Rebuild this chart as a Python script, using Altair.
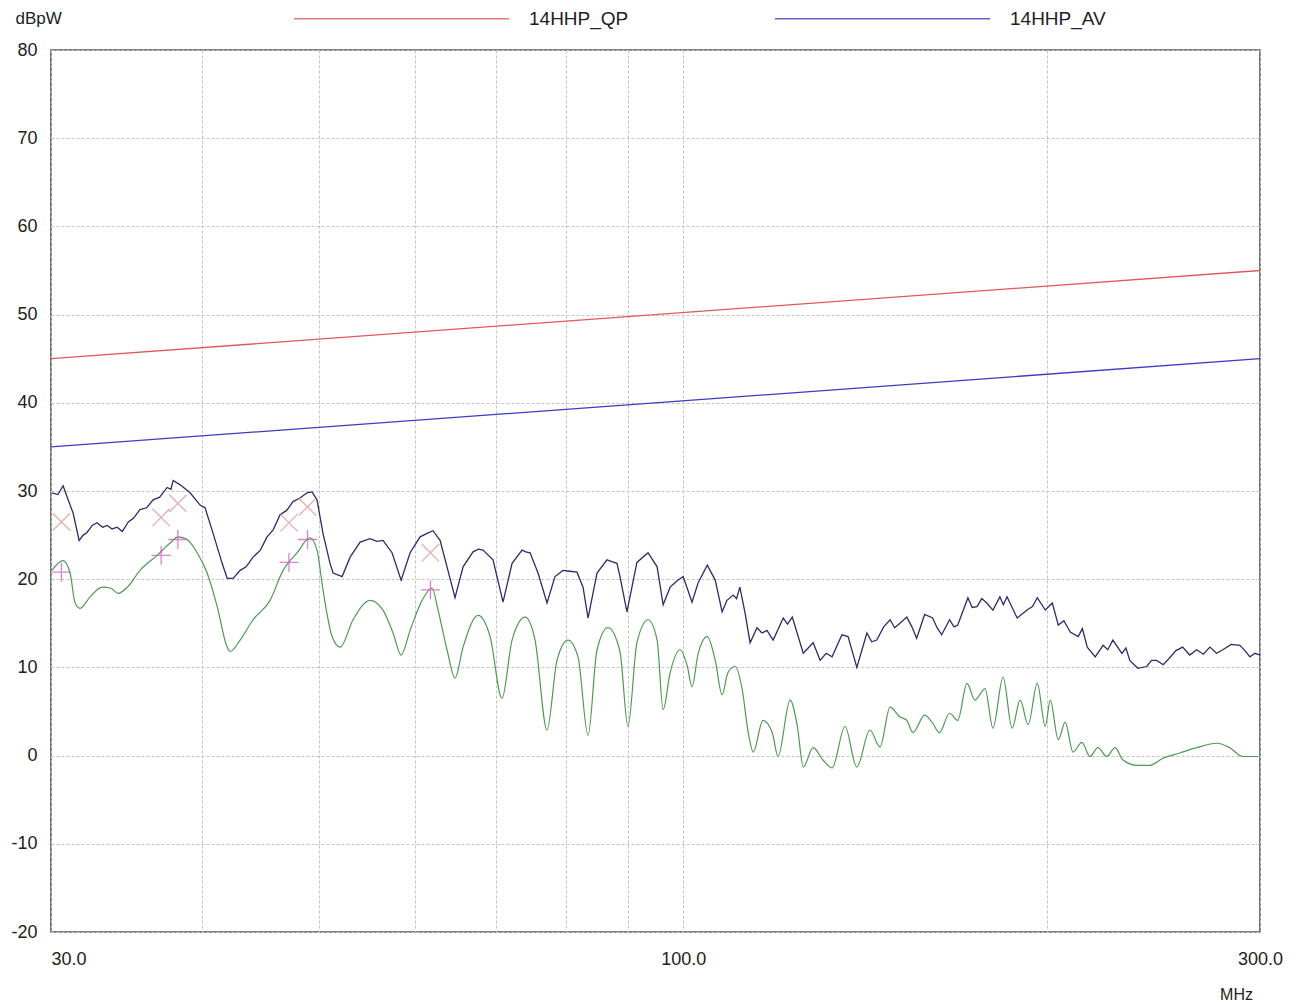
import altair as alt
import pandas as pd

# ---------------- data ----------------
# frequency (MHz), level (dBpW)
LIMIT_NAMES = ["14HHP_QP", "14HHP_AV"]
LIMIT_FREQ = [30.0, 300.0]
QP_LIMIT = [45.0, 55.0]
AV_LIMIT = [35.0, 45.0]

# peak / quasi-peak scan trace (dark line)
peak_trace = [
    (30.06, 29.8), (30.40, 29.6), (30.70, 30.6), (30.94, 29.3), (31.29, 27.5),
    (31.65, 24.4), (31.90, 25.0), (32.13, 25.3), (32.45, 26.1), (32.75, 26.4),
    (33.10, 25.9), (33.39, 26.1), (33.70, 25.7), (34.03, 25.9), (34.36, 25.4),
    (34.76, 26.5), (35.10, 26.9), (35.54, 27.9), (36.00, 28.1), (36.44, 29.0),
    (36.90, 29.3), (37.43, 30.4), (37.70, 30.2), (37.86, 31.2), (38.37, 30.7),
    (39.10, 29.8), (39.85, 28.4), (40.23, 28.1), (40.85, 25.2), (41.56, 21.8),
    (41.96, 20.1), (42.44, 20.1), (43.01, 21.0), (43.50, 21.4), (44.08, 22.5),
    (44.70, 23.3), (45.27, 24.8), (45.80, 25.6), (46.41, 27.3), (47.00, 27.8),
    (47.57, 28.8), (48.20, 29.2), (48.85, 29.8), (49.32, 29.9), (49.79, 29.0),
    (50.36, 25.2), (51.04, 21.8), (51.34, 20.7), (52.23, 20.3), (53.03, 22.5),
    (54.05, 24.2), (55.08, 24.6), (55.80, 24.3), (56.46, 24.4), (57.44, 23.0),
    (58.44, 19.9), (59.45, 23.0), (60.59, 24.8), (61.40, 25.2), (62.10, 25.5),
    (62.94, 24.4), (63.78, 21.4), (64.76, 17.9), (65.76, 21.4), (67.02, 23.1),
    (67.70, 23.4), (68.31, 23.3), (69.62, 22.2), (70.96, 17.4), (72.19, 21.8),
    (73.58, 23.3), (74.10, 23.1), (74.71, 23.0), (75.85, 20.7), (77.16, 17.3),
    (78.34, 20.3), (79.54, 21.0), (80.60, 20.9), (81.69, 20.8), (82.64, 19.1),
    (83.43, 15.6), (84.87, 20.7), (86.50, 22.2), (87.30, 22.0), (88.16, 21.8),
    (88.66, 20.3), (89.85, 16.3), (91.57, 21.9), (93.53, 23.0), (95.16, 21.4),
    (96.26, 17.1), (97.55, 19.1), (98.80, 19.8), (100.0, 20.3), (101.7, 17.4),
    (102.9, 19.6), (104.7, 21.6), (106.3, 19.9), (107.7, 16.3), (108.7, 17.6),
    (110.0, 18.2), (110.7, 17.8), (111.4, 19.1), (112.5, 16.2), (113.6, 12.8),
    (115.1, 14.5), (116.2, 13.9), (117.3, 14.2), (118.7, 13.1), (121.0, 15.6),
    (122.0, 14.9), (123.1, 15.7), (125.7, 11.6), (128.1, 12.8), (129.8, 10.8),
    (131.3, 11.6), (132.8, 11.2), (135.3, 13.7), (136.9, 13.5), (139.2, 10.0),
    (141.9, 13.9), (143.2, 12.9), (144.6, 13.1), (146.5, 14.6), (148.3, 15.4),
    (149.6, 14.5), (151.1, 15.0), (153.1, 15.7), (154.6, 14.6), (156.0, 13.3),
    (158.4, 16.0), (160.8, 15.6), (162.2, 14.5), (163.6, 13.7), (166.1, 15.4),
    (167.5, 14.6), (168.7, 14.8), (172.0, 17.9), (173.4, 16.8), (175.0, 16.9),
    (176.6, 17.8), (178.3, 17.3), (180.4, 16.5), (182.8, 18.0), (184.0, 17.1),
    (185.3, 18.0), (188.9, 15.6), (192.5, 16.5), (194.5, 16.9), (196.3, 17.9),
    (199.3, 16.5), (202.0, 17.3), (204.3, 14.8), (206.5, 15.3), (209.0, 14.0),
    (212.2, 13.5), (213.9, 14.4), (215.9, 12.3), (219.2, 11.2), (222.5, 12.5),
    (224.5, 12.0), (226.7, 13.1), (230.6, 11.6), (232.4, 12.2), (234.1, 10.8),
    (237.7, 9.9), (241.8, 10.1), (244.0, 10.8), (246.4, 10.8), (249.5, 10.3),
    (252.6, 11.1), (255.6, 11.9), (258.9, 12.3), (262.4, 11.4), (265.9, 12.0),
    (269.3, 11.5), (272.7, 12.3), (276.2, 11.6), (279.5, 12.0), (284.0, 12.6),
    (288.7, 12.5), (291.5, 11.9), (294.3, 11.2), (297.2, 11.6), (300.0, 11.4),
]

# average scan trace (green line)
avg_trace = [
    (30.06, 21.0), (30.70, 22.1), (31.11, 20.7), (31.41, 17.3), (31.71, 16.7),
    (32.32, 18.0), (33.07, 19.1), (33.58, 19.0), (34.10, 18.4), (34.70, 19.1),
    (35.54, 21.0), (36.72, 22.7), (37.64, 24.1), (38.22, 24.8), (38.88, 24.5),
    (39.63, 23.0), (40.39, 20.7), (41.17, 16.9), (41.96, 12.3), (42.20, 11.8),
    (43.01, 13.1), (44.08, 15.4), (45.53, 17.6), (46.68, 21.0), (47.94, 23.0),
    (49.13, 24.7), (49.79, 23.3), (50.36, 18.8), (51.24, 13.5), (52.03, 12.3),
    (53.33, 15.4), (55.08, 17.6), (56.46, 16.5), (57.55, 13.9), (58.44, 11.4),
    (59.45, 14.2), (60.82, 17.6), (61.99, 19.0), (62.70, 16.5), (63.78, 12.0),
    (64.76, 8.8), (65.76, 12.3), (67.67, 15.9), (69.23, 13.5), (70.82, 6.5),
    (72.19, 13.1), (74.01, 15.7), (75.42, 13.1), (77.16, 2.9), (78.64, 10.8),
    (80.30, 13.1), (81.85, 11.2), (83.43, 2.3), (84.87, 12.0), (86.67, 14.5),
    (88.66, 11.8), (90.02, 3.3), (91.57, 12.8), (93.53, 15.4), (95.16, 13.1),
    (96.26, 5.2), (97.55, 9.4), (99.42, 12.0), (100.8, 10.1), (101.7, 7.8),
    (102.9, 11.6), (104.7, 13.5), (106.3, 10.8), (107.7, 6.9), (108.9, 9.4),
    (110.4, 10.1), (111.9, 7.5), (113.2, 2.6), (114.3, 0.4), (116.4, 4.0),
    (118.5, 2.6), (119.8, -0.1), (122.6, 6.3), (124.3, 3.3), (125.7, -1.3),
    (128.1, 0.9), (130.5, -0.5), (132.8, -1.4), (136.1, 3.3), (139.2, -1.3),
    (142.7, 2.9), (145.5, 1.0), (148.3, 5.5), (151.1, 4.4), (153.1, 4.0),
    (154.9, 2.6), (158.4, 4.6), (160.8, 3.7), (162.9, 2.6), (166.1, 4.8),
    (168.7, 4.0), (171.7, 8.2), (174.3, 6.3), (177.7, 7.6), (180.4, 3.1),
    (183.9, 8.9), (187.1, 3.1), (190.0, 6.3), (192.9, 3.5), (196.3, 8.2),
    (199.3, 3.3), (201.2, 6.3), (204.3, 1.8), (207.0, 3.8), (210.1, 0.4),
    (213.7, 1.5), (217.0, -0.1), (220.3, 0.9), (224.1, -0.1), (227.6, 0.9),
    (231.1, -0.5), (237.3, -1.1), (243.2, -1.1), (249.3, -0.3), (257.5, 0.3),
    (265.9, 0.9), (276.3, 1.4), (283.2, 0.9), (290.3, -0.1), (298.9, -0.1),
]

# final measurement markers
MARK_FREQ = [30.6, 37.0, 38.2, 47.2, 48.9, 61.8]
MARK_QP = [26.5, 27.0, 28.6, 26.4, 28.2, 23.0]
MARK_AV = [20.8, 22.7, 24.5, 21.9, 24.5, 18.8]

Y_TICKS = list(range(-20, 81, 10))
X_GRID = [30, 40, 50, 60, 70, 80, 90, 100, 200, 300]
X_LABELED = [30, 100, 300]

# ---------------- build tables ----------------
limits = pd.DataFrame(
    [{"f": f, "v": v, "name": LIMIT_NAMES[0]} for f, v in zip(LIMIT_FREQ, QP_LIMIT)]
    + [{"f": f, "v": v, "name": LIMIT_NAMES[1]} for f, v in zip(LIMIT_FREQ, AV_LIMIT)]
)
peak_df = pd.DataFrame(peak_trace, columns=["f", "v"])
avg_df = pd.DataFrame(avg_trace, columns=["f", "v"])
marks_df = pd.DataFrame({"f": MARK_FREQ, "qp": MARK_QP, "av": MARK_AV})

FONT = "Liberation Sans"
TXT = "#222222"

x_scale = alt.Scale(type="log", domain=[30, 300], nice=False)
y_scale = alt.Scale(domain=[-20, 80], nice=False, zero=False)

label_test = " || ".join(f"datum.value == {v}" for v in X_LABELED)
x_axis = alt.Axis(
    values=X_GRID,
    labelExpr=f"({label_test}) ? format(datum.value, '.1f') : ''",
    labelAlign={"condition": {"test": "datum.value <= 30", "value": "left"}, "value": "center"},
    labelFont=FONT, labelFontSize=18, labelColor=TXT, labelPadding=18,
    labelOverlap=False, labelFlush=False,
    ticks=False, domain=False,
    grid=True, gridColor="#c4c4c4", gridDash=[3, 2], gridWidth=1,
    title="MHz", titleFont=FONT, titleFontSize=16, titleFontWeight="normal",
    titleColor=TXT, titleX=1185, titleY=62, titleAlign="center", titleBaseline="middle",
)
y_axis = alt.Axis(
    values=Y_TICKS,
    labelExpr="'' + datum.value",
    labelFont=FONT, labelFontSize=18, labelColor=TXT, labelPadding=14,
    ticks=False, domain=False,
    grid=True, gridColor="#c4c4c4", gridDash=[3, 2], gridWidth=1,
    title="dBpW", titleFont=FONT, titleFontSize=17, titleFontWeight="normal",
    titleColor=TXT, titleAngle=0, titleX=-36, titleY=-32,
    titleAlign="left", titleBaseline="middle",
)

X = alt.X("f:Q", scale=x_scale, axis=x_axis)
Y = alt.Y("v:Q", scale=y_scale, axis=y_axis)

limit_layer = alt.Chart(limits).mark_line(strokeWidth=1.3).encode(
    x=X, y=Y,
    color=alt.Color(
        "name:N",
        scale=alt.Scale(domain=LIMIT_NAMES, range=["#e0585c", "#3c3cc0"]),
        legend=alt.Legend(
            orient="none", legendX=242, legendY=-140, direction="horizontal",
            title=None, symbolType="stroke", symbolSize=46225, symbolStrokeWidth=1.5,
            labelFont=FONT, labelFontSize=19, labelColor=TXT, labelOffset=19,
            columnPadding=143, padding=0, symbolOpacity=0.8,
        ),
    ),
    detail="name:N",
)

peak_layer = alt.Chart(peak_df).mark_line(color="#2f2b6c", strokeWidth=1.3).encode(
    x=alt.X("f:Q", scale=x_scale), y=alt.Y("v:Q", scale=y_scale)
)
avg_layer = alt.Chart(avg_df).mark_line(
    color="#4f9a52", strokeWidth=1.2, interpolate="monotone"
).encode(x=alt.X("f:Q", scale=x_scale), y=alt.Y("v:Q", scale=y_scale))

x_mark = alt.Chart(marks_df).mark_point(
    shape="M-1,-1L1,1M-1,1L1,-1", filled=False, color="#e48a8a",
    size=300, strokeWidth=1.3,
).encode(x=alt.X("f:Q", scale=x_scale), y=alt.Y("qp:Q", scale=y_scale))
plus_mark = alt.Chart(marks_df).mark_point(
    shape="M-1,0L1,0M0,-1L0,1", filled=False, color="#d04cc4",
    size=360, strokeWidth=1.3,
).encode(x=alt.X("f:Q", scale=x_scale), y=alt.Y("av:Q", scale=y_scale))

chart = alt.layer(
    limit_layer, peak_layer, avg_layer, x_mark, plus_mark
).properties(
    width=1209, height=882,
    autosize="none",
    padding={"left": 43, "top": 42, "right": 48, "bottom": 74},
    background="white",
).configure_view(
    stroke="#555555", strokeWidth=1.6
)

chart.save("out.html", embed_options={"renderer": "svg", "actions": False})
